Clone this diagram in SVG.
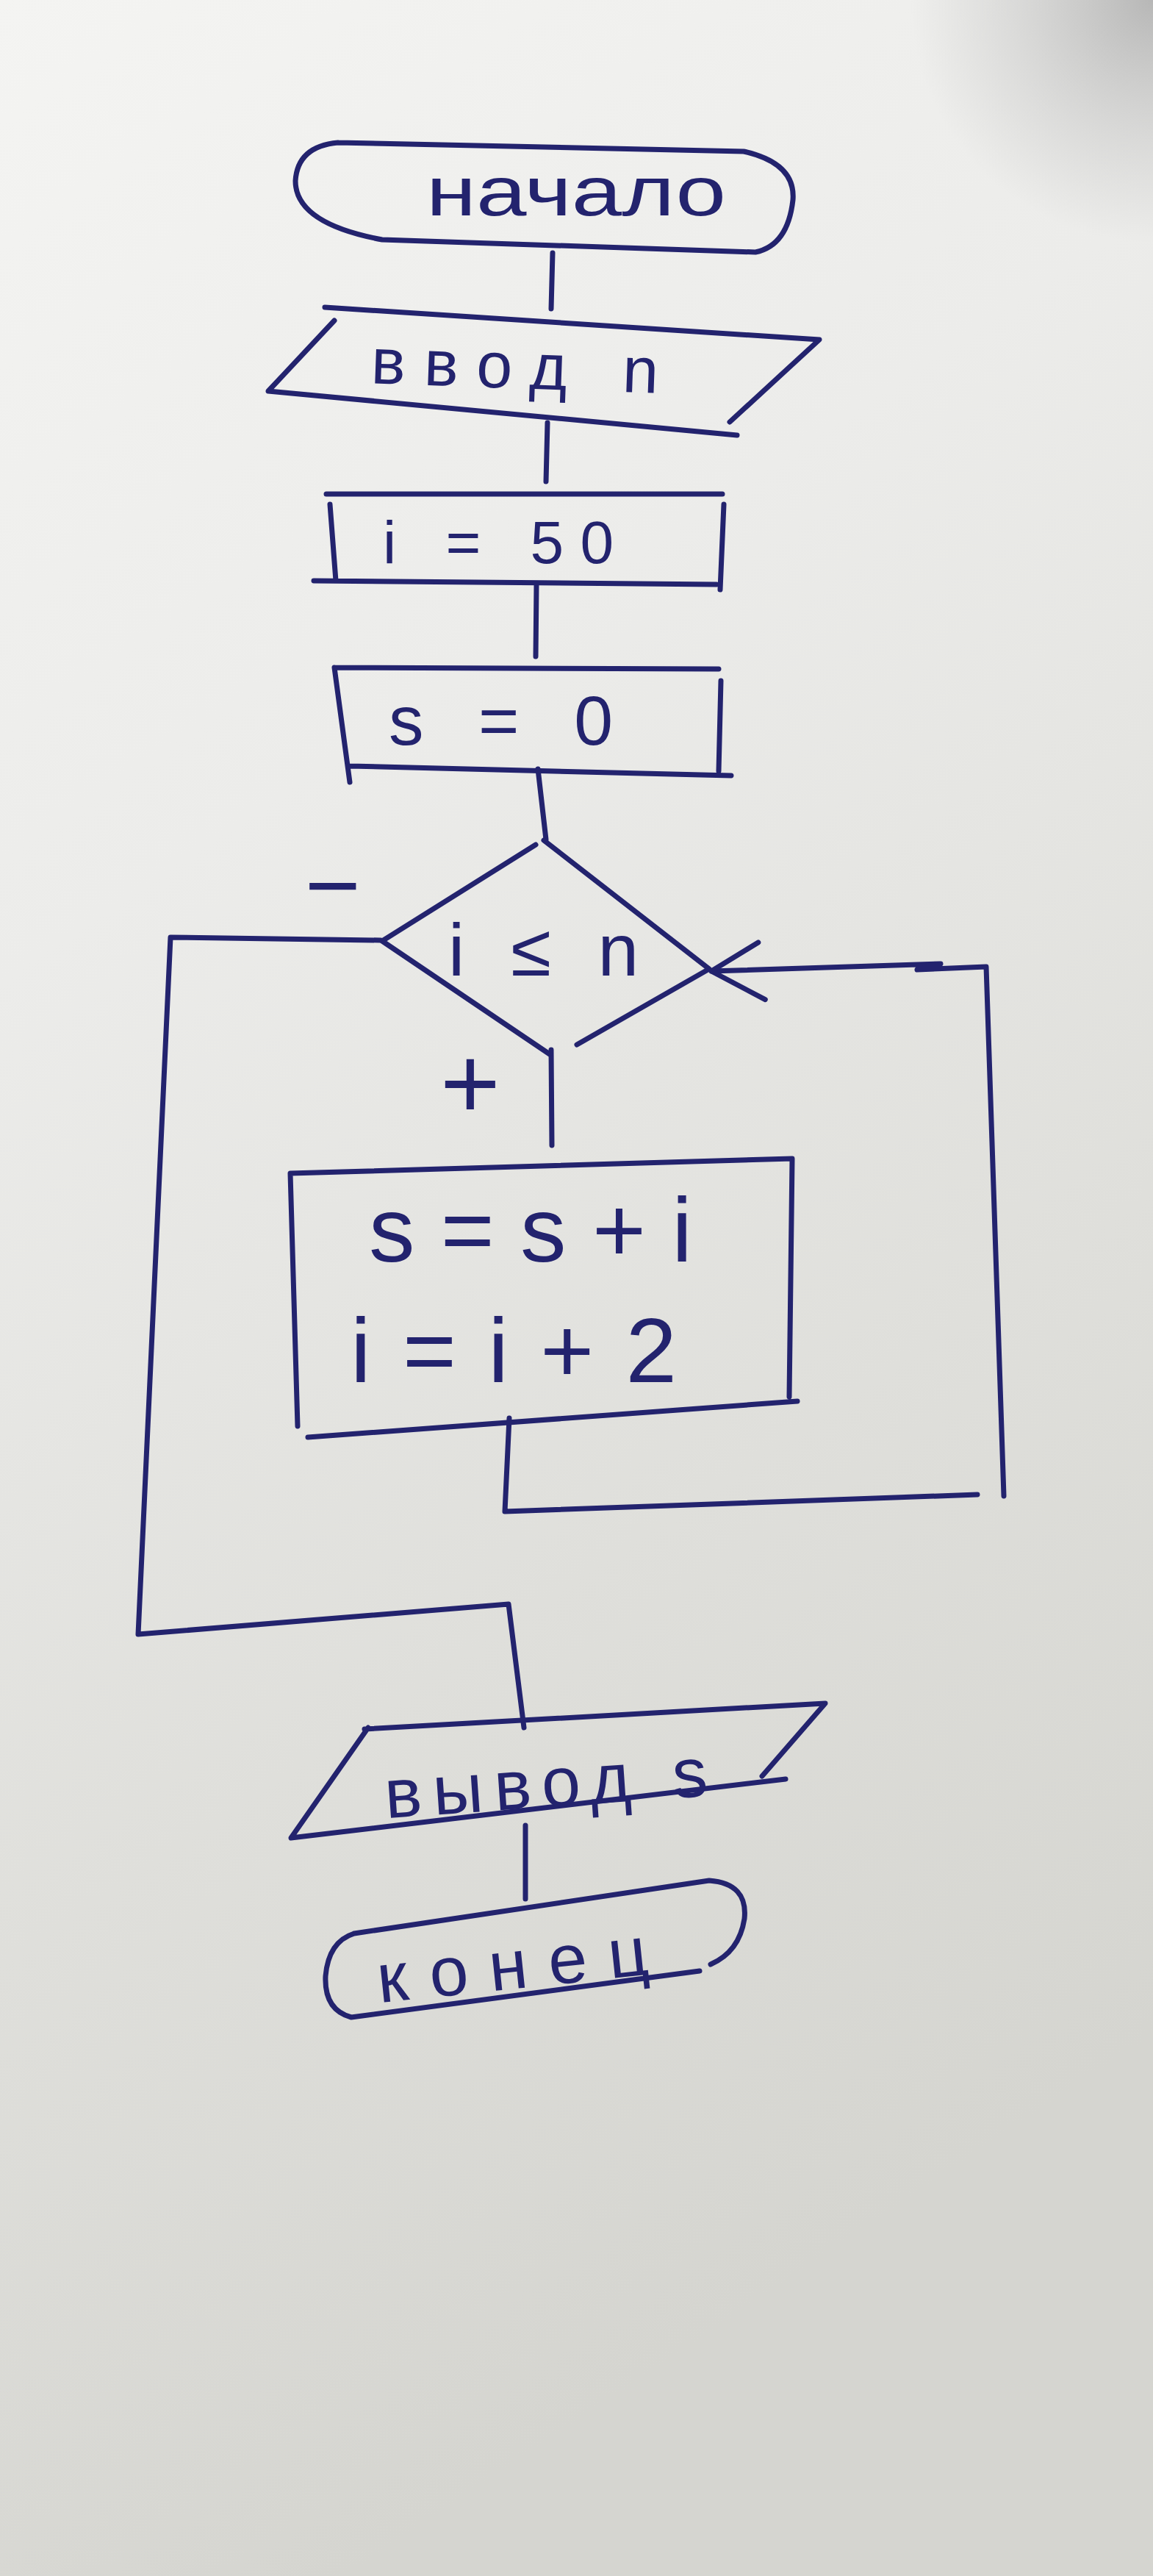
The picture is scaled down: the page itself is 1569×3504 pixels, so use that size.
<svg xmlns="http://www.w3.org/2000/svg" width="1569" height="3504" viewBox="0 0 1569 3504">
<defs>
<linearGradient id="paper" x1="0" y1="0" x2="0.3" y2="1">
<stop offset="0" stop-color="#f4f4f2"/>
<stop offset="0.35" stop-color="#ececea"/>
<stop offset="0.7" stop-color="#dfdfdb"/>
<stop offset="1" stop-color="#d5d5d0"/>
</linearGradient>
<radialGradient id="corner" cx="1569" cy="0" r="330" gradientUnits="userSpaceOnUse">
<stop offset="0" stop-color="#a0a0a0" stop-opacity="0.7"/>
<stop offset="0.6" stop-color="#b0b0b0" stop-opacity="0.3"/>
<stop offset="1" stop-color="#b0b0b0" stop-opacity="0"/>
</radialGradient>
<marker id="head" viewBox="-90 -60 100 120" refX="0" refY="0" markerWidth="100" markerHeight="120" markerUnits="userSpaceOnUse" orient="auto" overflow="visible">
<path d="M -72,-41 L 0,0 L -65,37" fill="none" stroke="#23236e" stroke-width="7" stroke-linecap="round" stroke-linejoin="round"/>
</marker>
<style>
.ink{fill:none;stroke:#23236e;stroke-width:7;stroke-linecap:round;stroke-linejoin:round}
.t{font-family:"Liberation Sans","DejaVu Sans",sans-serif;fill:#23236e}
</style>
</defs>
<rect width="1569" height="3504" fill="url(#paper)"/>
<rect width="1569" height="3504" fill="url(#corner)"/>

<g id="connectors">
<path class="ink" d="M752,344 L750,420"/>
<path class="ink" d="M745,575 L743,655"/>
<path class="ink" d="M730,795 L729,893"/>
<path class="ink" d="M732,1046 L743,1142"/>
<path class="ink" d="M750,1428 L751,1558"/>
<path class="ink" d="M518,1279 L232,1275 L188,2223 L692,2182 L713,2350"/>
<path class="ink" d="M693,1929 L687,2056 L1330,2033 M1366,2035 L1342,1315 L1248,1319 M1280,1311 L968,1321" marker-end="url(#head)"/>
<path class="ink" d="M715,2483 L715,2583"/>
</g>

<g id="start">
<path class="ink" d="M460,194 L1012,206 Q1083,222 1079,272 Q1072,334 1028,343 L520,326 Q402,304 402,246 Q405,199 460,194"/>
<text class="t" x="580" y="293" font-size="95" textLength="408" lengthAdjust="spacingAndGlyphs">начало</text>
</g>

<g id="input">
<path class="ink" d="M442,418 L1115,462 L993,574 M1003,592 L365,532 L455,436"/>
<text class="t" x="505" y="528" font-size="88" textLength="391" lengthAdjust="spacing" transform="rotate(2 700 505)">ввод n</text>
</g>

<g id="init-i">
<path class="ink" d="M444,672 L983,672 M449,686 L457,790 M427,790 L975,795 M985,686 L980,802"/>
<text class="t" x="521" y="766" font-size="82" textLength="314" lengthAdjust="spacing">i = 50</text>
</g>

<g id="init-s">
<path class="ink" d="M455,908 L978,910 M455,908 L476,1064 M476,1042 L995,1055 M981,926 L978,1049"/>
<text class="t" x="529" y="1013" font-size="95" textLength="305" lengthAdjust="spacing">s = 0</text>
</g>

<g id="condition">
<path class="ink" d="M740,1143 L965,1318 L785,1421 M748,1434 L520,1280 L729,1149"/>
<text class="t" x="610" y="1327" font-size="100" textLength="259" lengthAdjust="spacing">i ≤ n</text>
<text class="t" x="453" y="1249" font-size="130" text-anchor="middle">−</text>
<text class="t" x="640" y="1521" font-size="140" text-anchor="middle">+</text>
</g>

<g id="body">
<path class="ink" d="M395,1596 L1078,1576 L1074,1900 M1085,1906 L419,1955 M395,1596 L405,1940"/>
<text class="t" x="502" y="1716" font-size="125" textLength="440" lengthAdjust="spacing">s = s + i</text>
<text class="t" x="477" y="1880" font-size="125" textLength="444" lengthAdjust="spacing">i = i + 2</text>
</g>

<g id="output">
<path class="ink" d="M496,2352 L1123,2317 L1037,2416 M1069,2420 L396,2500 L501,2350"/>
<text class="t" x="523" y="2458" font-size="95" textLength="440" lengthAdjust="spacing" transform="rotate(-4 743 2430)">вывод s</text>
</g>

<g id="end">
<path class="ink" d="M482,2630 L965,2558 Q1018,2562 1013,2610 Q1006,2655 967,2672 M952,2681 L478,2744 Q441,2734 443,2688 Q447,2641 482,2630"/>
<text class="t" x="514" y="2705" font-size="95" textLength="370" lengthAdjust="spacing" transform="rotate(-6 700 2690)">конец</text>
</g>
</svg>
